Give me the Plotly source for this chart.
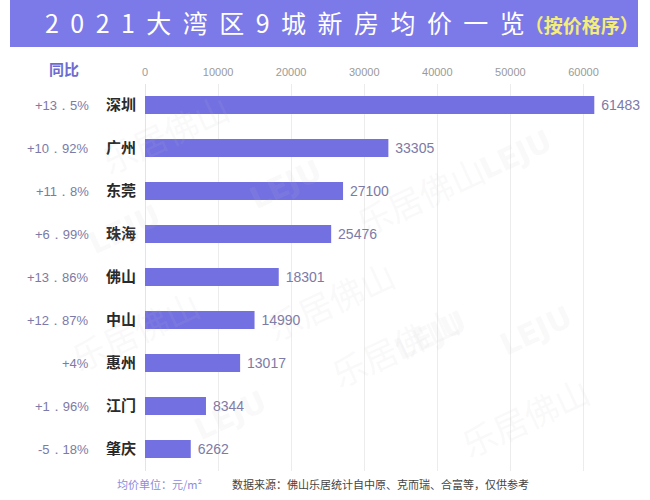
import plotly.graph_objects as go

cities = ["深圳", "广州", "东莞", "珠海", "佛山", "中山", "惠州", "江门", "肇庆"]
prices = [61483, 33305, 27100, 25476, 18301, 14990, 13017, 8344, 6262]
yoy = ["+13．5%", "+10．92%", "+11．8%", "+6．99%", "+13．86%", "+12．87%", "+4%", "+1．96%", "-5．18%"]
x_ticks = [0, 10000, 20000, 30000, 40000, 50000, 60000]

W, H = 650, 500
FONT = "Noto Sans CJK SC, Noto Sans, sans-serif"
NUMFONT = "Liberation Sans, Arial, sans-serif"
BAR = "#7370e2"
BANNER = "#7c7ae8"

def px(x):
    return x / W

def py(y):
    return 1 - y / H

fig = go.Figure()

fig.add_trace(go.Bar(
    x=prices, y=cities, orientation="h",
    marker=dict(color=BAR, line=dict(width=0)),
    width=0.42,
    text=["\u00a0" + str(v) for v in prices], textposition="outside",
    textfont=dict(color="#7c7aa6", size=14, family=NUMFONT),
    cliponaxis=False,
    hoverinfo="skip",
))

annotations = []
# YoY labels
for c, t in zip(cities, yoy):
    annotations.append(dict(x=px(91), xref="paper", y=c, yref="y", text=t,
                            showarrow=False, xanchor="right", yanchor="middle",
                            font=dict(size=13, color="#7c7aa6", family=NUMFONT)))
# header
annotations.append(dict(x=px(64), y=py(68), xref="paper", yref="paper", text="<b>同比</b>",
                        showarrow=False, xanchor="center", yanchor="middle",
                        font=dict(size=15, color="#6d6bd2", family=FONT)))
# title
title_main = "\u2004\u200a\u200a".join(list("2021大湾区9城新房均价一览"))
annotations.append(dict(x=px(43), y=py(22), xref="paper", yref="paper",
                        text=title_main + "<span style='color:#f4ec7c;font-size:19px;font-weight:bold'>（按价格序）</span>",
                        showarrow=False, xanchor="left", yanchor="middle",
                        font=dict(size=25, color="white", family=FONT)))
# footer
annotations.append(dict(x=px(115), y=py(484), xref="paper", yref="paper", text="均价单位：元/m²",
                        showarrow=False, xanchor="left", yanchor="middle",
                        font=dict(size=11, color="#8d8bdb", family=FONT)))
annotations.append(dict(x=px(230), y=py(484), xref="paper", yref="paper",
                        text="数据来源：佛山乐居统计自中原、克而瑞、合富等，仅供参考",
                        showarrow=False, xanchor="left", yanchor="middle",
                        font=dict(size=11, color="#444444", family=FONT)))
# faint watermarks
for (wx, wy, ang) in [(90, 80, -25), (420, 195, -25), (330, 300, -25), (470, 400, -25), (600, 470, -25), (60, 330, -25)]:
    annotations.append(dict(x=px(wx), y=py(wy), xref="paper", yref="paper", text="乐居佛山",
                            showarrow=False, textangle=ang,
                            font=dict(size=34, color="rgba(200,200,200,0.11)", family=FONT)))
for (wx, wy) in [(285, 150), (560, 120), (430, 370), (80, 230), (230, 450), (580, 330)]:
    annotations.append(dict(x=px(wx), y=py(wy), xref="paper", yref="paper", text="<b>LEJU</b>",
                            showarrow=False, textangle=-25,
                            font=dict(size=30, color="rgba(200,200,200,0.11)", family="DejaVu Sans")))

shapes = [dict(type="rect", xref="paper", yref="paper",
               x0=px(10), x1=px(638), y0=py(47), y1=py(0),
               fillcolor=BANNER, line=dict(width=0), layer="below")]

fig.update_layout(
    width=W, height=H,
    margin=dict(l=0, r=0, t=0, b=0),
    paper_bgcolor="white", plot_bgcolor="white",
    showlegend=False,
    xaxis=dict(domain=[px(145), px(620)], range=[0, 65000], side="top",
               tickvals=x_ticks, ticktext=[str(v) for v in x_ticks],
               tickfont=dict(size=11, color="#9a9a9a", family=NUMFONT),
               showgrid=True, gridcolor="#ececec", gridwidth=1,
               zeroline=True, zerolinecolor="#e4e4e4", zerolinewidth=1,
               showline=False, ticks="", ticklabelstandoff=4, fixedrange=True,
               automargin=False),
    yaxis=dict(domain=[py(470.5), py(83.5)], categoryorder="array", categoryarray=cities,
               autorange="reversed",
               tickvals=cities, ticktext=["<b>" + c + "</b>" for c in cities],
               tickfont=dict(size=15, color="#2a2a2a", family=FONT),
               showgrid=False, zeroline=False, showline=False, ticks="", ticklabelstandoff=8,
               fixedrange=True, automargin=False),
    annotations=annotations,
    shapes=shapes,
)

fig.write_html("out.html", config={"displayModeBar": False},
               post_script="document.body.style.margin='0';document.body.style.overflow='hidden';")
